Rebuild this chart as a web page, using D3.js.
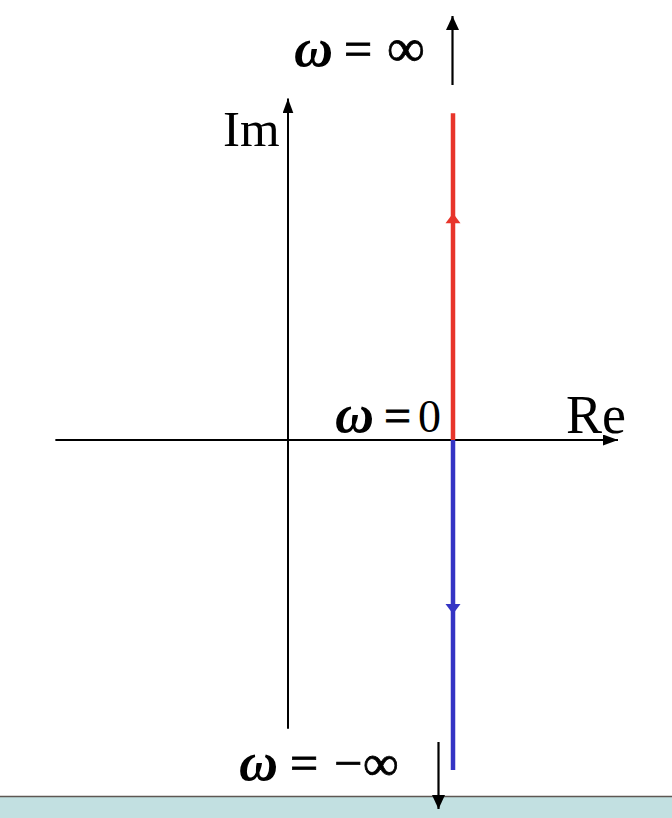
<!DOCTYPE html>
<html><head><meta charset="utf-8">
<script src="https://cdn.jsdelivr.net/npm/d3@7"></script>
<style>body{margin:0;background:#fff}svg{display:block}text{font-family:"Liberation Serif","Times New Roman",serif;fill:#000}</style>
</head><body>
<svg id="c" width="672" height="818"></svg>
<script>
// Nyquist-style plot of a locus with constant real part
const reAxis = [-1.41, 2.0];
const imAxis = [-1.75, 2.07];
const reK = 1;
const posBranch = [[1, 0], [1, 1.98]];
const negBranch = [[1, 0], [1, -2.0]];
const dirArrowsPos = [1.375];
const dirArrowsNeg = [-1.055];
const axisLabels = ["Im", "Re"];
const omegaLabels = [
  ["ω", "=", "∞"],
  ["ω", "=", "0"],
  ["ω", "=", "−", "∞"]
];

const svg = d3.select("#c");
const x = d3.scaleLinear().domain([0, 1]).range([288, 453]);
const y = d3.scaleLinear().domain([0, 1]).range([440, 275]);

// bottom teal band
svg.append("rect").attr("x", 0).attr("y", 796).attr("width", 672).attr("height", 22).attr("fill", "#c2e0e1");
svg.append("line").attr("x1", 0).attr("x2", 672).attr("y1", 796.5).attr("y2", 796.5).attr("stroke", "#5e5753").attr("stroke-width", 1.5);

const defs = svg.append("defs");
function marker(id, color, w, h) {
  defs.append("marker").attr("id", id).attr("viewBox", `0 0 ${w} ${h}`)
    .attr("refX", w).attr("refY", h / 2).attr("markerWidth", w).attr("markerHeight", h)
    .attr("markerUnits", "userSpaceOnUse").attr("orient", "auto")
    .append("path").attr("d", `M0,0L${w},${h / 2}L0,${h}Z`).attr("fill", color);
}
marker("ax", "#000", 15, 11);
marker("ar", "#000", 14, 13);

// axes
svg.append("line").attr("x1", x(reAxis[0])).attr("x2", x(reAxis[1])).attr("y1", y(0)).attr("y2", y(0))
  .attr("stroke", "#000").attr("stroke-width", 2).attr("marker-end", "url(#ax)");
svg.append("line").attr("x1", x(0)).attr("x2", x(0)).attr("y1", y(imAxis[0])).attr("y2", y(imAxis[1]))
  .attr("stroke", "#000").attr("stroke-width", 2).attr("marker-end", "url(#ax)");

// branches
const line = d3.line().x(d => x(d[0])).y(d => y(d[1]));
svg.append("path").attr("d", line(posBranch)).attr("stroke", "#e8352b").attr("stroke-width", 4.5).attr("fill", "none");
svg.append("path").attr("d", line(negBranch)).attr("stroke", "#3434c4").attr("stroke-width", 4.5).attr("fill", "none");

// direction arrowheads
function tri(v, up, color) {
  const cx = x(reK), cy = y(v);
  const hw = 7.5, h = 10;
  const p = up ? `M${cx},${cy}L${cx + hw},${cy + h}L${cx - hw},${cy + h}Z`
               : `M${cx},${cy}L${cx + hw},${cy - h}L${cx - hw},${cy - h}Z`;
  svg.append("path").attr("d", p).attr("fill", color);
}
dirArrowsPos.forEach(v => tri(v, true, "#e8352b"));
dirArrowsNeg.forEach(v => tri(v, false, "#3434c4"));

// infinity arrows
svg.append("line").attr("x1", 452.5).attr("x2", 452.5).attr("y1", 85).attr("y2", 16)
  .attr("stroke", "#000").attr("stroke-width", 2.2).attr("marker-end", "url(#ar)");
svg.append("line").attr("x1", 438.5).attr("x2", 438.5).attr("y1", 742).attr("y2", 809)
  .attr("stroke", "#000").attr("stroke-width", 2.2).attr("marker-end", "url(#ar)");

// labels: glyph placement [x, fontSize] for each piece
const placements = [
  { y: 66, pos: [[294, 54], [344, 50], [387, 53]] },
  { y: 432, pos: [[335, 54], [384, 48], [418, 46]] },
  { y: 780, pos: [[239, 54], [290, 50], [334, 50], [363, 50]] }
];
omegaLabels.forEach((parts, i) => {
  const pl = placements[i];
  parts.forEach((g, j) => {
    const t = svg.append("text").attr("x", pl.pos[j][0]).attr("y", pl.y).attr("font-size", pl.pos[j][1]).text(g);
    if (g === "ω") t.attr("font-family", "'DejaVu Serif', serif").attr("font-style", "italic").attr("font-weight", "bold");
    else if (g !== "0") t.attr("stroke", "#000").attr("stroke-width", 0.8);
  });
});
svg.append("text").attr("x", 223).attr("y", 146).attr("font-size", 51).text(axisLabels[0]);
svg.append("text").attr("x", 566).attr("y", 433).attr("font-size", 54).text(axisLabels[1]);
</script>
</body></html>
